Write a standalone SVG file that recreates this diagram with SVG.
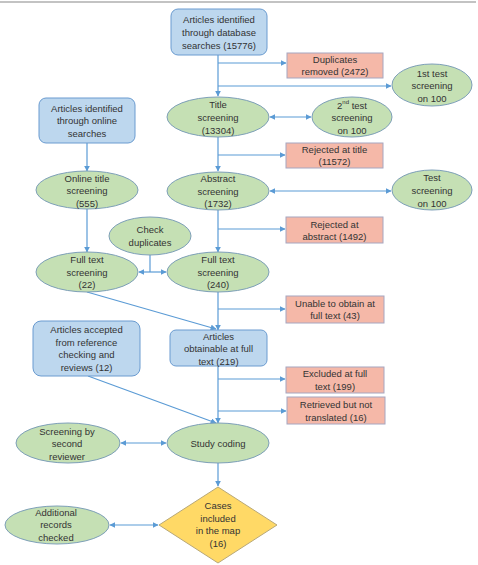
<svg xmlns="http://www.w3.org/2000/svg" width="478" height="565" viewBox="0 0 478 565">
<defs>
<marker id="ah" viewBox="0 0 10 10" refX="9" refY="5" markerWidth="6" markerHeight="6" orient="auto-start-reverse" markerUnits="userSpaceOnUse">
<path d="M0,0 L10,5 L0,10 z" fill="#5b9bd5"/>
</marker>
<style>
.blue{fill:#bdd7ee;stroke:#6a9bd0;stroke-width:1}
.green{fill:#c5e0b4;stroke:#7d9fb8;stroke-width:1}
.red{fill:#f5b8a8;stroke:#a6a6c0;stroke-width:1}
.dia{fill:#ffd966;stroke:#b8a878;stroke-width:1}
.c{fill:none;stroke:#5b9bd5;stroke-width:1.2}
text{font-family:"Liberation Sans",Arial,sans-serif;font-size:9.5px;fill:#333;text-anchor:middle;dominant-baseline:central}
</style>
</defs>
<rect width="478" height="565" fill="#ffffff"/>
<line x1="0" y1="2" x2="476" y2="2" stroke="#888" stroke-width="1.2"/>

<g id="connectors">
<path class="c" d="M218,55 V96" marker-end="url(#ah)"/>
<path class="c" d="M218,63 H286" marker-end="url(#ah)"/>
<path class="c" d="M218,86 H391" marker-end="url(#ah)"/>
<path class="c" d="M270,117 H311" marker-start="url(#ah)" marker-end="url(#ah)"/>
<path class="c" d="M218,137 V171" marker-end="url(#ah)"/>
<path class="c" d="M218,155 H285" marker-end="url(#ah)"/>
<path class="c" d="M270,191 H391" marker-start="url(#ah)" marker-end="url(#ah)"/>
<path class="c" d="M218,210 V252" marker-end="url(#ah)"/>
<path class="c" d="M218,229 H285" marker-end="url(#ah)"/>
<path class="c" d="M87,143 V171" marker-end="url(#ah)"/>
<path class="c" d="M87,209 V252" marker-end="url(#ah)"/>
<path class="c" d="M150,255 V272"/>
<path class="c" d="M150,272 H139" marker-end="url(#ah)"/>
<path class="c" d="M150,272 H166" marker-end="url(#ah)"/>
<path class="c" d="M218,292 V330" marker-end="url(#ah)"/>
<path class="c" d="M218,309 H285" marker-end="url(#ah)"/>
<path class="c" d="M87,292 L216,329" marker-end="url(#ah)"/>
<path class="c" d="M218,366 V423" marker-end="url(#ah)"/>
<path class="c" d="M218,379 H285" marker-end="url(#ah)"/>
<path class="c" d="M218,411 H286" marker-end="url(#ah)"/>
<path class="c" d="M88,376 L216,423" marker-end="url(#ah)"/>
<path class="c" d="M121,443 H166" marker-start="url(#ah)" marker-end="url(#ah)"/>
<path class="c" d="M218,463 V486" marker-end="url(#ah)"/>
<path class="c" d="M110,525 H158" marker-start="url(#ah)" marker-end="url(#ah)"/>
</g>

<g id="db-search">
<rect class="blue" x="171" y="9" width="96" height="46" rx="7"/>
<text x="219" y="19">Articles identified</text>
<text x="219" y="32">through database</text>
<text x="219" y="45">searches (15776)</text>
</g>
<g id="duplicates">
<rect class="red" x="287" y="53" width="96" height="25"/>
<text x="335" y="59.5">Duplicates</text>
<text x="335" y="71.5">removed  (2472)</text>
</g>
<g id="test1">
<ellipse class="green" cx="432" cy="85" rx="40" ry="21"/>
<text x="432" y="73">1st test</text>
<text x="432" y="85.5">screening</text>
<text x="432" y="98">on 100</text>
</g>
<g id="title-screening">
<ellipse class="green" cx="218" cy="117" rx="51" ry="20"/>
<text x="218" y="104">Title</text>
<text x="218" y="117">screening</text>
<text x="218" y="130">(13304)</text>
</g>
<g id="test2">
<ellipse class="green" cx="352" cy="117" rx="40" ry="20"/>
<text x="352" y="105"><tspan>2</tspan><tspan font-size="6" dy="-3">nd</tspan><tspan dy="3"> test</tspan></text>
<text x="352" y="117.5">screening</text>
<text x="352" y="130">on 100</text>
</g>
<g id="online-search">
<rect class="blue" x="39" y="98" width="96" height="45" rx="7"/>
<text x="87" y="108">Articles identified</text>
<text x="87" y="120.5">through online</text>
<text x="87" y="133">searches</text>
</g>
<g id="rejected-title">
<rect class="red" x="286" y="143" width="97" height="25"/>
<text x="334.5" y="149.5">Rejected at title</text>
<text x="334.5" y="161.5">(11572)</text>
</g>
<g id="online-title">
<ellipse class="green" cx="87" cy="190" rx="51" ry="19"/>
<text x="87" y="178">Online title</text>
<text x="87" y="190.5">screening</text>
<text x="87" y="203">(555)</text>
</g>
<g id="abstract-screening">
<ellipse class="green" cx="218" cy="191" rx="51" ry="19"/>
<text x="218" y="178.5">Abstract</text>
<text x="218" y="191">screening</text>
<text x="218" y="203.5">(1732)</text>
</g>
<g id="test3">
<ellipse class="green" cx="432" cy="190" rx="40" ry="20"/>
<text x="432" y="177.5">Test</text>
<text x="432" y="190.5">screening</text>
<text x="432" y="203">on 100</text>
</g>
<g id="rejected-abstract">
<rect class="red" x="286" y="217" width="97" height="26"/>
<text x="334.5" y="224">Rejected at</text>
<text x="334.5" y="236">abstract (1492)</text>
</g>
<g id="check-duplicates">
<ellipse class="green" cx="150" cy="236" rx="41" ry="19"/>
<text x="150" y="229.5">Check</text>
<text x="150" y="242">duplicates</text>
</g>
<g id="fulltext-22">
<ellipse class="green" cx="87" cy="272" rx="51" ry="20"/>
<text x="87" y="259.5">Full text</text>
<text x="87" y="272">screening</text>
<text x="87" y="284.5">(22)</text>
</g>
<g id="fulltext-240">
<ellipse class="green" cx="218" cy="272" rx="51" ry="20"/>
<text x="218" y="259.5">Full text</text>
<text x="218" y="272">screening</text>
<text x="218" y="284.5">(240)</text>
</g>
<g id="unable">
<rect class="red" x="286" y="296" width="98" height="27"/>
<text x="335" y="303.5">Unable to obtain at</text>
<text x="335" y="315.5">full text (43)</text>
</g>
<g id="accepted-reference">
<rect class="blue" x="33" y="321" width="107" height="55" rx="8"/>
<text x="86.5" y="329.5">Articles accepted</text>
<text x="86.5" y="342">from reference</text>
<text x="86.5" y="354.5">checking and</text>
<text x="86.5" y="367">reviews (12)</text>
</g>
<g id="obtainable">
<rect class="blue" x="170" y="330" width="97" height="36" rx="6"/>
<text x="218.5" y="336">Articles</text>
<text x="218.5" y="348.5">obtainable at full</text>
<text x="218.5" y="361">text (219)</text>
</g>
<g id="excluded">
<rect class="red" x="286" y="367" width="98" height="26"/>
<text x="335" y="373.5">Excluded at full</text>
<text x="335" y="386">text (199)</text>
</g>
<g id="not-translated">
<rect class="red" x="287" y="397" width="98" height="27"/>
<text x="336" y="404.5">Retrieved but not</text>
<text x="336" y="417">translated (16)</text>
</g>
<g id="second-reviewer">
<ellipse class="green" cx="68" cy="443" rx="52" ry="20"/>
<text x="67" y="431">Screening by</text>
<text x="67" y="443.5">second</text>
<text x="67" y="456">reviewer</text>
</g>
<g id="study-coding">
<ellipse class="green" cx="218" cy="443" rx="51" ry="20"/>
<text x="218" y="443.5">Study coding</text>
</g>
<g id="cases-included">
<path class="dia" d="M218,487 L277,525 L218,563 L159,525 Z"/>
<text x="218" y="505.5">Cases</text>
<text x="218" y="518">included</text>
<text x="218" y="530.5">in the map</text>
<text x="218" y="543">(16)</text>
</g>
<g id="additional-records">
<ellipse class="green" cx="57" cy="525" rx="52" ry="19"/>
<text x="56" y="512">Additional</text>
<text x="56" y="524.5">records</text>
<text x="56" y="537">checked</text>
</g>
</svg>
